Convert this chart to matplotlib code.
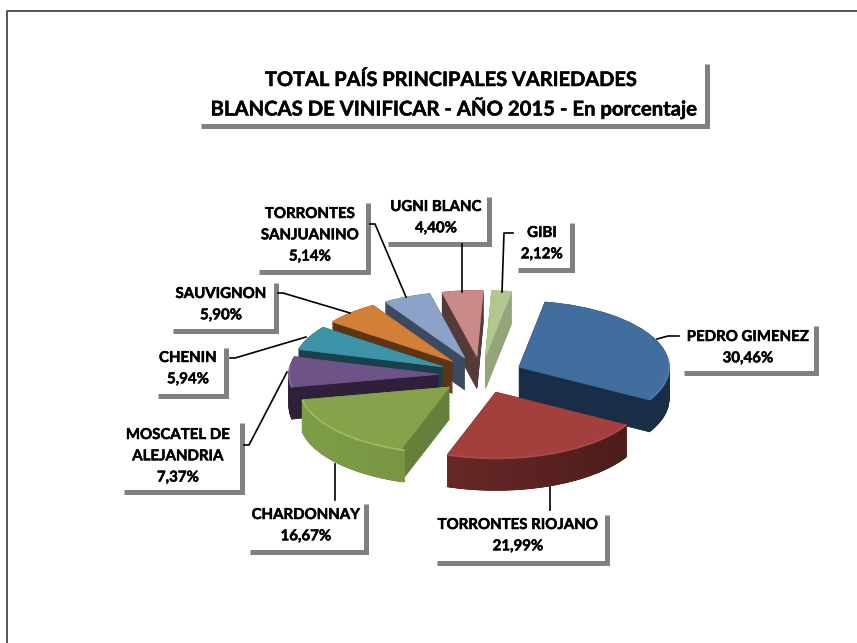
import matplotlib
matplotlib.use("Agg")
import matplotlib.pyplot as plt
import matplotlib.patheffects as pe
import numpy as np

plt.rcParams['font.family'] = ['Lato', 'DejaVu Sans']

# values, in percent
varieties = ["PEDRO GIMENEZ", "TORRONTES RIOJANO", "CHARDONNAY", "MOSCATEL DE\nALEJANDRIA",
             "CHENIN", "SAUVIGNON", "TORRONTES\nSANJUANINO", "UGNI BLANC", "GIBI"]
shares = [30.46, 21.99, 16.67, 7.37, 5.94, 5.90, 5.14, 4.40, 2.12]
share_labels = ["30,46%", "21,99%", "16,67%", "7,37%", "5,94%", "5,90%", "5,14%", "4,40%", "2,12%"]

top_colors = ["#416e9f", "#a33f3c", "#86a24a", "#6e5389", "#3d93a8", "#d47f38", "#8ba2c9", "#ca8a8a", "#b1c78f"]
cut_colors = ["#1a2d47", "#4a1a18", "#65803a", "#2e2038", "#1a404a", "#5e3514", "#3b4a60", "#553a3a", "#94a57a"]
wall_left = ["#1a2d47", "#7d3231", "#7f9e48", "#2e2038", "#1a404a", "#5e3514", "#3b4a60", "#553a3a", "#94a57a"]
wall_right = ["#1a2d47", "#481a18", "#65803a", "#2e2038", "#1a404a", "#5e3514", "#3b4a60", "#553a3a", "#94a57a"]
rim_colors = ["#4f7cab", "#ab4a46", "#9cbc58", "#8268a0", "#4ea2b7", "#dd8c48", "#98aed2", "#d29898", "#bbd09c"]
draw_rank = [6, 8, 7, 5, 4, 3, 2, 1, 0]  # back slices first

W, H = 857, 643
CX, CY, RX, RY = 481, 375, 150, 66
DEPTH = 32 / RY
EXPLODE = 0.28

fig = plt.figure(figsize=(W / 100, H / 100), dpi=100)

# page axes in pixel coordinates, for the frame, boxes and leader lines
page = fig.add_axes([0, 0, 1, 1], zorder=2)
page.set_xlim(0, W)
page.set_ylim(H, 0)
page.axis("off")
page.patch.set_alpha(0)

# pie axes: same unit circle squashed by the axes limits
x_lim = (-2.0, 2.0)
y_lim = (-2.0, 2.0)
ax_w = (x_lim[1] - x_lim[0]) * RX
ax_h = (y_lim[1] - y_lim[0]) * RY
pie_ax = fig.add_axes([(CX - ax_w / 2) / W, 1 - (CY + ax_h / 2) / H, ax_w / W, ax_h / H], zorder=1)


def draw_pie(center, colors, layer):
    wedges, _ = pie_ax.pie(shares, colors=colors, startangle=80, counterclock=False,
                           explode=[EXPLODE] * len(shares), center=center,
                           wedgeprops={"linewidth": 0.6, "edgecolor": "none"})
    for i, w in enumerate(wedges):
        w.set_zorder(draw_rank[i] * 100 + layer)
        w.set_edgecolor(colors[i])
    return wedges


# cut faces as a stack of darker copies
for k, d in enumerate(np.linspace(DEPTH, 0, 24)):
    draw_pie((0, -d), cut_colors, k + 1)

top = draw_pie((0, 0), top_colors, 60)

# outer walls and bevelled rim from the wedge geometry
for i, w in enumerate(top):
    cx, cy = w.center
    t = np.radians(np.arange(w.theta1, w.theta2 + 1.5, 1.5))
    xs = cx + w.r * np.cos(t)
    ys = cy + w.r * np.sin(t)
    for j in range(len(t) - 1):
        if np.sin(t[j]) + np.sin(t[j + 1]) > 0:
            continue
        f = np.clip((xs[j] + 1.2) / 2.4, 0, 1)
        c = (1 - f) * np.array(matplotlib.colors.to_rgb(wall_left[i])) + f * np.array(matplotlib.colors.to_rgb(wall_right[i]))
        pie_ax.fill([xs[j], xs[j + 1], xs[j + 1], xs[j]],
                    [ys[j], ys[j + 1], ys[j + 1] - DEPTH, ys[j] - DEPTH],
                    color=c, lw=0.5, zorder=draw_rank[i] * 100 + 40)
    front = np.sin(t) < 0.15
    pie_ax.plot(xs[front], ys[front], color=rim_colors[i], lw=1.3,
                solid_capstyle="butt", zorder=draw_rank[i] * 100 + 70)

pie_ax.set_aspect("auto")
pie_ax.set_xlim(*x_lim)
pie_ax.set_ylim(*y_lim)
pie_ax.axis("off")
pie_ax.patch.set_alpha(0)

# outer frame, open on the right and at the bottom
page.plot([7.5, 7.5, W], [H, 10.5, 10.5], color="#555555", lw=1.4)

GREY = "#808080"
BAR = 3.6
HEAVY = [pe.withStroke(linewidth=0.35, foreground="black")]


def box(left, top_y, right, bottom):
    page.plot([left, right, right], [bottom, bottom, top_y], color=GREY, lw=BAR,
              solid_joinstyle="miter", solid_capstyle="butt")


# title
box(201, 64, 707, 126)
page.text(451, 80, "TOTAL PAÍS PRINCIPALES VARIEDADES", ha="center", va="center",
          fontsize=14.4, fontweight="bold", color="black", path_effects=HEAVY)
page.text(453.5, 108, "BLANCAS DE VINIFICAR - AÑO 2015 - En porcentaje", ha="center", va="center",
          fontsize=14.6, fontweight="bold", color="black", path_effects=HEAVY)

# label boxes: left, top, right, bottom, text centre x, first line y
boxes = [
    (684, 326, 816, 373, 748, 337),
    (437, 515, 607, 563, 518, 525),
    (250, 504, 366, 552, 306, 515),
    (124, 423, 242, 492, 178, 435),
    (158, 348, 226, 396, 188, 358),
    (173, 283, 276, 331, 221, 294),
    (259, 203, 368, 272, 310, 214),
    (388, 197, 489, 244, 436, 207),
    (518, 223, 572, 270, 542, 233),
]
LINE = 21.3
for name, lab, b in zip(varieties, share_labels, boxes):
    box(b[0], b[1], b[2], b[3])
    for n, s in enumerate(name.split("\n") + [lab]):
        page.text(b[4], b[5] + n * LINE, s, ha="center", va="center", fontsize=10.8,
                  fontweight="bold", color="black", path_effects=HEAVY)

# leader lines
leaders = [
    ([657, 668, 679], [339, 336, 336]),
    ([550, 550], [487, 510]),
    ([335, 335], [464, 500]),
    ([244, 249, 287], [445, 445, 372]),
    ([230, 235, 306], [358, 358, 337]),
    ([278, 283, 350], [293, 293, 313]),
    ([370, 375, 406], [224, 224, 297]),
    ([462, 462], [292, 244]),
    ([502, 504, 513], [292, 233, 233]),
]
for xs, ys in leaders:
    page.plot(xs, ys, color="black", lw=1.2)

fig.savefig("out.png", dpi=100)
